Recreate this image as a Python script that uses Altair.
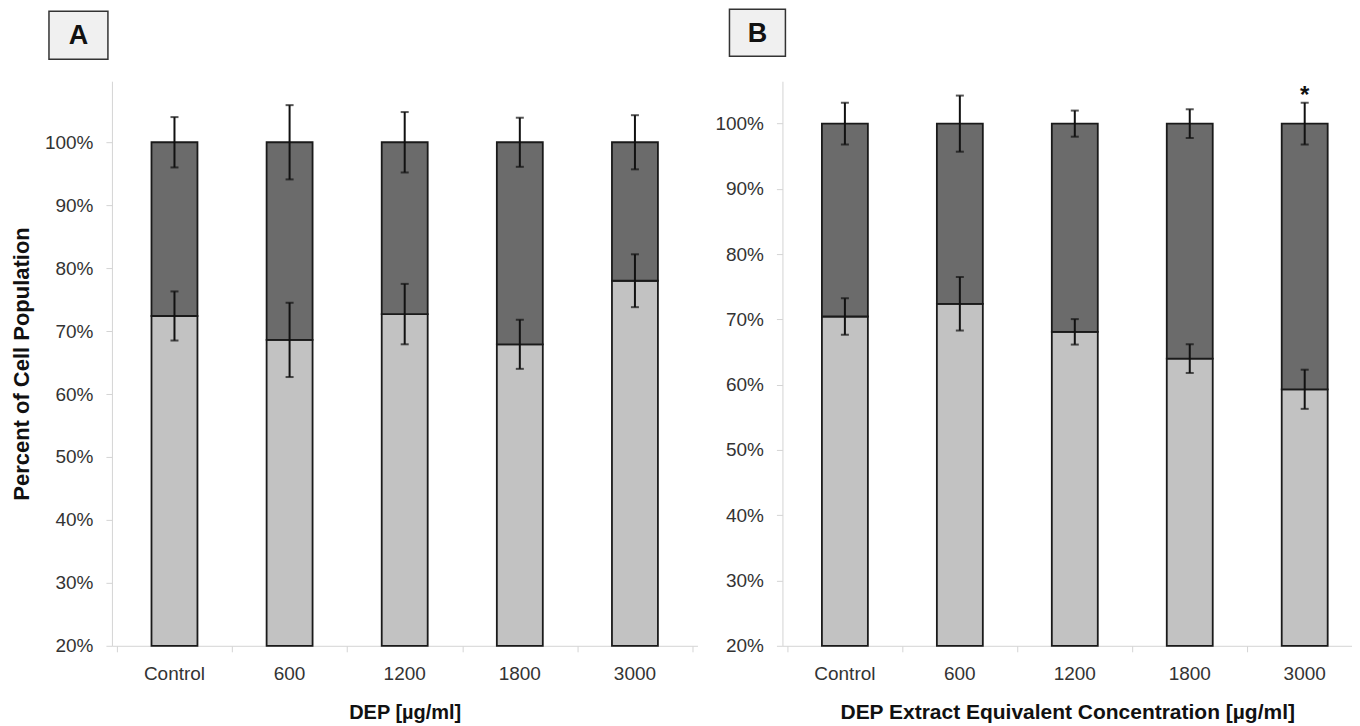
import altair as alt
import pandas as pd

# ---- data -------------------------------------------------------------
concentrations = ["Control", "600", "1200", "1800", "3000"]

# Panel A: DEP
a_light = [72.4, 68.6, 72.7, 67.9, 78.0]        # light segment top (%)
a_light_err = [3.9, 5.9, 4.8, 3.9, 4.2]         # error at segment boundary
a_top_err = [4.0, 5.9, 4.8, 3.9, 4.3]           # error at 100%

# Panel B: DEP extract equivalent concentration
b_light = [70.45, 72.4, 68.1, 64.0, 59.3]
b_light_err = [2.8, 4.1, 1.95, 2.2, 3.0]
b_top_err = [3.2, 4.3, 2.0, 2.2, 3.2]

y_ticks = [20, 30, 40, 50, 60, 70, 80, 90, 100]
x_bounds = [-0.5, 0.5, 1.5, 2.5, 3.5, 4.5]

LIGHT = "#c2c2c2"
DARK = "#6b6b6b"
EDGE = "#1a1a1a"
AXIS = "#d4d4d4"
FONT = "Liberation Sans"

H = 565


def panel(light, light_err, top_err, width, xmax, ymax, xtitle, xtitle_size,
          ytitle, label, box, star=None):
    idx = list(range(len(concentrations)))
    df = pd.DataFrame({"idx": idx, "conc": concentrations, "light": light})
    err = pd.DataFrame({
        "idx": idx + idx,
        "center": list(light) + [100] * len(idx),
        "err": list(light_err) + list(top_err),
    })
    err["lo"] = err["center"] - err["err"]
    err["hi"] = err["center"] + err["err"]

    xscale = alt.Scale(domain=[-0.5, xmax], nice=False, zero=False)
    yscale = alt.Scale(domain=[20, ymax], nice=False, zero=False)

    xaxis = alt.Axis(values=x_bounds, labels=False, tickSize=6,
                     tickColor=AXIS, domainColor=AXIS, grid=False,
                     title=xtitle, titleFont=FONT, titleFontSize=xtitle_size,
                     titleFontWeight="bold", titleColor="#111111",
                     titlePadding=50 - (xtitle_size - 20) / 2)
    yaxis_kw = dict(values=y_ticks, labelExpr="datum.value + '%'",
                    tickSize=6, tickColor=AXIS, domainColor=AXIS,
                    grid=False, labelFont=FONT, labelFontSize=19,
                    labelColor="#333333", labelPadding=13)
    if ytitle:
        yaxis = alt.Axis(title=ytitle, titleFont=FONT, titleFontSize=22,
                         titleFontWeight="bold", titleColor="#111111",
                         titlePadding=11, **yaxis_kw)
    else:
        yaxis = alt.Axis(title=None, **yaxis_kw)

    base = alt.Chart(df)
    light_bar = base.mark_bar(size=46, fill=LIGHT, stroke=EDGE,
                              strokeWidth=1.8).encode(
        x=alt.X("idx:Q", scale=xscale, axis=xaxis),
        y=alt.Y("light:Q", scale=yscale, axis=yaxis),
        y2=alt.datum(20),
    )
    dark_bar = base.mark_bar(size=46, fill=DARK, stroke=EDGE,
                             strokeWidth=1.8).encode(
        x="idx:Q", y="light:Q", y2=alt.datum(100))

    eb = alt.Chart(err)
    rules = eb.mark_rule(color="#111111", strokeWidth=2).encode(
        x="idx:Q", y="lo:Q", y2="hi:Q")
    cap_lo = eb.mark_tick(orient="horizontal", size=8, thickness=2,
                          color="#111111").encode(x="idx:Q", y="lo:Q")
    cap_hi = eb.mark_tick(orient="horizontal", size=8, thickness=2,
                          color="#111111").encode(x="idx:Q", y="hi:Q")

    cat_labels = base.mark_text(font=FONT, fontSize=19, color="#333333",
                                baseline="middle").encode(
        x="idx:Q", y=alt.value(H + 28), text="conc:N")

    lab = alt.Chart(pd.DataFrame({"label": [label]}))
    bx0, bx1, by0, by1 = box
    box_rect = lab.mark_rect(fill="#f0f0f0", stroke="#333333",
                             strokeWidth=1.5).encode(
        x=alt.value(bx0), x2=alt.value(bx1),
        y=alt.value(by0), y2=alt.value(by1))
    box_text = lab.mark_text(font=FONT, fontSize=27, fontWeight="bold",
                             color="#111111", baseline="middle",
                             align="center").encode(
        x=alt.value((bx0 + bx1) / 2), y=alt.value((by0 + by1) / 2 + 1),
        text="label:N")

    layers = [light_bar, dark_bar, rules, cap_lo, cap_hi, cat_labels,
              box_rect, box_text]
    if star is not None:
        sdf = pd.DataFrame({"idx": [star[0]], "y": [star[1]], "t": ["*"]})
        layers.append(alt.Chart(sdf).mark_text(
            font=FONT, fontSize=24, fontWeight="bold", color="#111111",
            baseline="middle").encode(x="idx:Q", y="y:Q", text="t:N"))

    return alt.layer(*layers).properties(width=width, height=H)


chart_a = panel(a_light, a_light_err, a_top_err, 586, 4.5, 109.7,
                "DEP [µg/ml]", 20, "Percent of Cell Population", "A",
                (-63, -4, -70, -22))
chart_b = panel(b_light, b_light_err, b_top_err, 570, 4.368, 106.5,
                "DEP Extract Equivalent Concentration [µg/ml]", 21, None, "B",
                (-53, 3, -72, -25), star=(4, 104.2))

chart = alt.hconcat(chart_a, chart_b, spacing=17).properties(
    padding={"left": 2, "top": 0, "right": 0, "bottom": 0}
).configure_view(stroke=None).configure_axis(grid=False)

chart.save("out.html", embed_options={"renderer": "svg", "actions": False})
